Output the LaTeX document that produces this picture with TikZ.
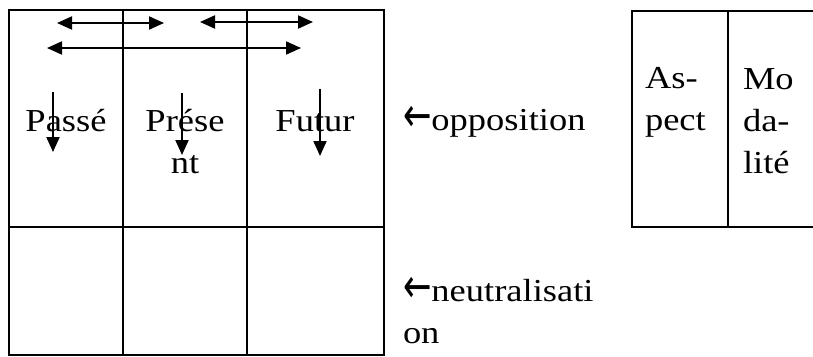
\documentclass[tikz,border=0pt]{standalone}
\usepackage{fontspec}
\setmainfont{Liberation Serif}[FakeStretch=1.14]
\newfontfamily\arrowfont{DejaVu Sans}
\usetikzlibrary{arrows.meta}
\newcommand{\larr}{{\arrowfont\fontsize{34}{42}\selectfont\raisebox{-1pt}{\scalebox{1}[1.4]{←}}}}
\begin{document}
\begin{tikzpicture}[x=1pt,y=-1pt,line width=2pt,
  txt/.style={font=\fontsize{32}{42}\selectfont, inner sep=0pt},
  darr/.style={line width=2pt,{Triangle[length=15pt,width=13pt]}-{Triangle[length=15pt,width=13pt]}},
  varr/.style={line width=2pt,-{Triangle[length=15pt,width=13pt]}}]
\useasboundingbox (0,0) rectangle (813,356);
% left table
\draw (9,10) rectangle (384,355);
\draw (123,10) -- (123,355);
\draw (247,10) -- (247,355);
\draw (9,227) -- (384,227);
% right table
\draw (818,11) -- (632,11) -- (632,227) -- (818,227);
\draw (728,11) -- (728,227);
% texts
\node[txt, anchor=base] (passe) at (66,131) {Passé};
\node[txt, anchor=base, align=center] (present) at (185,173) {Prése\\nt};
\node[txt, anchor=base] (futur) at (315,131) {Futur};
\node[txt, anchor=base west] (opp) at (402,130) {\larr opposition};
\node[txt, anchor=base west, align=left] (neut) at (402,343) {\larr neutralisati\\on};
\node[txt, anchor=base west, align=left] (aspect) at (644,130) {As-\\pect};
\node[txt, anchor=base west, align=left] (modalite) at (742,173) {Mo\\da-\\lité};
% arrows
\coordinate (a1l) at (57,23);  \coordinate (a1r) at (164,23);
\coordinate (a2l) at (200,22); \coordinate (a2r) at (313,22);
\coordinate (a3l) at (47,48);  \coordinate (a3r) at (301,48);
\coordinate (d1t) at (53,92);  \coordinate (d1b) at (53,152);
\coordinate (d2t) at (182,93); \coordinate (d2b) at (182,155);
\coordinate (d3t) at (320,89); \coordinate (d3b) at (320,156);
\draw[darr] (a1l) -- (a1r);
\draw[darr] (a2l) -- (a2r);
\draw[darr] (a3l) -- (a3r);
\draw[varr] (d1t) -- (d1b);
\draw[varr] (d2t) -- (d2b);
\draw[varr] (d3t) -- (d3b);
\end{tikzpicture}
\end{document}
